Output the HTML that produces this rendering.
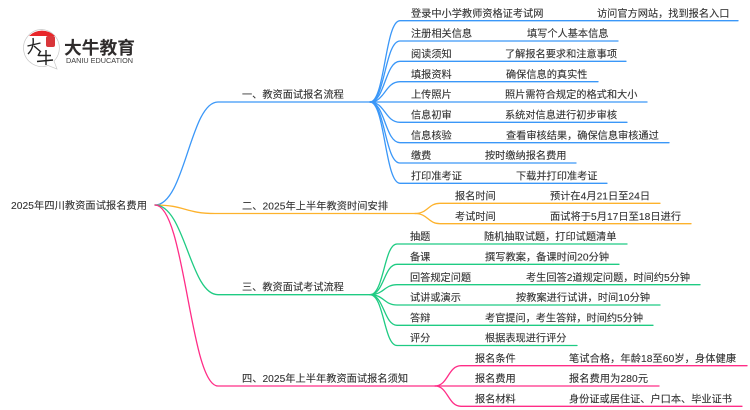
<!DOCTYPE html>
<html><head><meta charset="utf-8"><style>
html,body{margin:0;padding:0;background:#fff}
svg{display:block}
text{font-family:"Liberation Sans","Noto Sans CJK SC",sans-serif;font-size:10.2px;fill:#333;stroke:#333;stroke-width:.12}
.b,.o,.g,.p{fill:none;stroke-width:1.3;stroke-linecap:round}
.b{stroke:#3a97f8}.o{stroke:#fdb22c}.g{stroke:#1fcb83}.p{stroke:#ff2d87}
</style></head><body>
<svg width="750" height="410" viewBox="0 0 750 410" xmlns="http://www.w3.org/2000/svg">
<!-- logo -->
<path d="M42 29.500a18.500 18.500 0 1 0 6 36l9 3.500-3-8a18.500 18.500 0 0 0-12-31.500z" fill="#fff" stroke="#c9c9c9" stroke-width=".7"/>
<path d="M29 36a18.500 18.500 0 0 1 26 0z" fill="#e8262a"/>
<rect x="46" y="36" width="9" height="11" rx="2" fill="#d9363a"/>
<path d="M27.500 46l13-3M33 38c1 7-1 12-5 16M34 46l7 6" fill="none" stroke="#222" stroke-width="1.400"/>
<path d="M40 52l-2 4M39 55.500h12M37 61.500l16-1.500M46 50v15" fill="none" stroke="#222" stroke-width="1.400"/>
<text x="64" y="54" textLength="71" lengthAdjust="spacingAndGlyphs" style="font-size:17.500px;font-weight:bold;fill:#2f2c2c;stroke:none">大牛教育</text>
<text x="66" y="63" textLength="67" lengthAdjust="spacingAndGlyphs" style="font-size:7px;fill:#3a3a3a;stroke:none">DANIU EDUCATION</text>

<!-- root -->
<text x="11" y="209" textLength="136">2025年四川教资面试报名费用</text>
<path class="b" d="M155 205C185 205 190 102 218 102H370"/>
<path class="o" d="M155 205C185 205 185 213.500 215 213.500H415"/>
<path class="g" d="M155 205C185 205 190 294.700 218 294.700H370"/>
<path class="p" d="M155 205C185 205 190 386 218 386H435"/>

<text x="242" y="98">一、教资面试报名流程</text>
<text x="242" y="209.500" textLength="146">二、2025年上半年教资时间安排</text>
<text x="242" y="290.500">三、教资面试考试流程</text>
<text x="242" y="382" textLength="166">四、2025年上半年教资面试报名须知</text>

<!-- blue -->
<path class="b" d="M370 102C385 102 385 20.700 400 20.700H738"/>
<path class="b" d="M370 102C385 102 385 41 400 41H618"/>
<path class="b" d="M370 102C385 102 385 61.300 400 61.300H626"/>
<path class="b" d="M370 102C385 102 385 81.700 400 81.700H598"/>
<path class="b" d="M370 102H647"/>
<path class="b" d="M370 102C385 102 385 122.300 400 122.300H627"/>
<path class="b" d="M370 102C385 102 385 142.700 400 142.700H669"/>
<path class="b" d="M370 102C385 102 385 163 400 163H576"/>
<path class="b" d="M370 102C385 102 385 183.300 400 183.300H607"/>
<text x="411" y="17">登录中小学教师资格证考试网</text><text x="597" y="17">访问官方网站，找到报名入口</text>
<text x="411" y="37">注册相关信息</text><text x="527" y="37">填写个人基本信息</text>
<text x="411" y="57.500">阅读须知</text><text x="505" y="57.500">了解报名要求和注意事项</text>
<text x="411" y="78">填报资料</text><text x="506" y="78">确保信息的真实性</text>
<text x="411" y="98">上传照片</text><text x="505" y="98">照片需符合规定的格式和大小</text>
<text x="411" y="118.500">信息初审</text><text x="505" y="118.500">系统对信息进行初步审核</text>
<text x="411" y="139">信息核验</text><text x="506" y="139">查看审核结果，确保信息审核通过</text>
<text x="411" y="159">缴费</text><text x="485" y="159">按时缴纳报名费用</text>
<text x="411" y="179.500">打印准考证</text><text x="516" y="179.500">下载并打印准考证</text>

<!-- orange -->
<path class="o" d="M415 213.500C428 213.500 428 203.300 440 203.300H660"/>
<path class="o" d="M415 213.500C428 213.500 428 223.700 440 223.700H691"/>
<text x="455" y="199.500">报名时间</text><text x="550" y="199.500" textLength="100">预计在4月21日至24日</text>
<text x="455" y="220">考试时间</text><text x="550" y="220" textLength="131">面试将于5月17日至18日进行</text>

<!-- green -->
<path class="g" d="M370 294.700C384 294.700 384 244 397 244H627"/>
<path class="g" d="M370 294.700C384 294.700 384 264.300 397 264.300H619"/>
<path class="g" d="M370 294.700C384 294.700 384 284.700 397 284.700H700"/>
<path class="g" d="M370 294.700C384 294.700 384 305 397 305H660"/>
<path class="g" d="M370 294.700C384 294.700 384 325.300 397 325.300H653"/>
<path class="g" d="M370 294.700C384 294.700 384 345.500 397 345.500H577"/>
<text x="410" y="240">抽题</text><text x="484" y="240">随机抽取试题，打印试题清单</text>
<text x="410" y="260.500">备课</text><text x="485" y="260.500" textLength="124">撰写教案，备课时间20分钟</text>
<text x="410" y="281">回答规定问题</text><text x="526" y="281" textLength="164">考生回答2道规定问题，时间约5分钟</text>
<text x="410" y="301">试讲或演示</text><text x="516" y="301" textLength="134">按教案进行试讲，时间10分钟</text>
<text x="410" y="321.500">答辩</text><text x="485" y="321.500" textLength="158">考官提问，考生答辩，时间约5分钟</text>
<text x="410" y="341.500">评分</text><text x="485" y="341.500">根据表现进行评分</text>

<!-- pink -->
<path class="p" d="M435 386C448 386 448 365.700 461 365.700H747"/>
<path class="p" d="M435 386H659"/>
<path class="p" d="M435 386C448 386 448 406.300 461 406.300H742"/>
<text x="475" y="362">报名条件</text><text x="569" y="362" textLength="167">笔试合格，年龄18至60岁，身体健康</text>
<text x="475" y="382">报名费用</text><text x="569" y="382" textLength="79">报名费用为280元</text>
<text x="475" y="402.500">报名材料</text><text x="569" y="402.500">身份证或居住证、户口本、毕业证书</text>
</svg>
</body></html>
